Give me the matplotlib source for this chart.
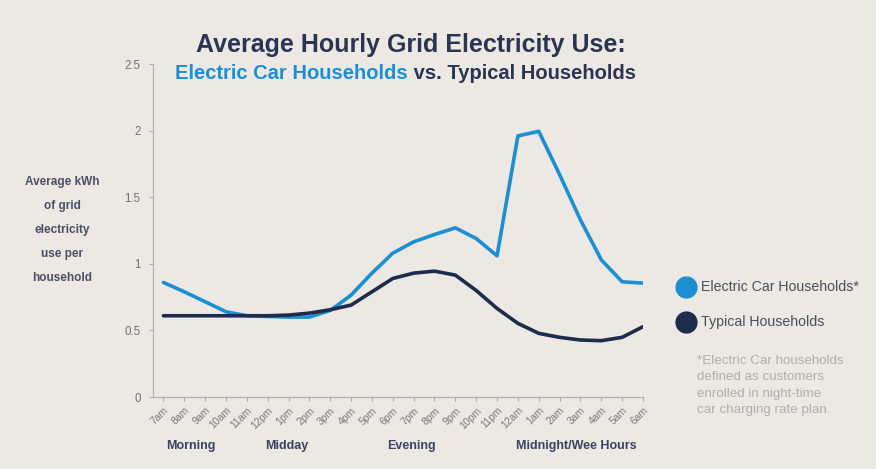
import matplotlib.pyplot as plt
from matplotlib.lines import Line2D

# datos
hours = ['7am', '8am', '9am', '10am', '11am', '12pm', '1pm', '2pm', '3pm', '4pm',
         '5pm', '6pm', '7pm', '8pm', '9pm', '10pm', '11pm', '12am', '1am', '2am',
         '3am', '4am', '5am', '6am']
ev_use = [0.86, 0.79, 0.715, 0.64, 0.61, 0.605, 0.60, 0.60, 0.65, 0.765,
          0.93, 1.08, 1.165, 1.22, 1.27, 1.19, 1.06, 1.96, 1.995, 1.67,
          1.33, 1.03, 0.865, 0.855]
typ_use = [0.61, 0.61, 0.61, 0.61, 0.61, 0.61, 0.615, 0.63, 0.655, 0.69,
           0.79, 0.89, 0.93, 0.945, 0.915, 0.80, 0.665, 0.553, 0.478, 0.448,
           0.428, 0.423, 0.448, 0.528]
periods = ['Morning', 'Midday', 'Evening', 'Midnight/Wee Hours']
period_pos = [1.3, 5.9, 11.9, 19.8]

BG = '#ECE8E3'
BLUE = '#1C8FD3'
NAVY = '#1D2B4C'
plt.rcParams['font.family'] = ['Liberation Sans', 'DejaVu Sans']

fig = plt.figure(figsize=(8.76, 4.69), dpi=100, facecolor=BG)
ax = fig.add_axes([0.1747, 0.1535, 0.5593, 0.71])
ax.set_facecolor(BG)

x = list(range(len(hours)))
ax.plot(x, ev_use, color=BLUE, lw=2.6, solid_joinstyle='round', solid_capstyle='round')
ax.plot(x, typ_use, color=NAVY, lw=2.6, solid_joinstyle='round', solid_capstyle='round')

ax.set_xlim(-0.5, 23)
ax.set_ylim(0, 2.5)
ax.set_yticks([0, 0.5, 1, 1.5, 2, 2.5])
ax.set_yticklabels(['0', '0.5', '1', '1.5', '2', '2.5'])
ax.set_xticks(x)
ax.set_xticklabels(hours, rotation=45, ha='right', rotation_mode='anchor')
ax.tick_params(axis='y', colors='#AAAAAA', labelcolor='#707070', labelsize=8.3, length=3, pad=6)
ax.tick_params(axis='x', colors='#AAAAAA', labelcolor='#7A7A7A', labelsize=7.5, length=3, pad=3)
for s in ['top', 'right']:
    ax.spines[s].set_visible(False)
for s in ['left', 'bottom']:
    ax.spines[s].set_color('#B0B0B0')

# titulo
fig.text(0.469, 0.905, 'Average Hourly Grid Electricity Use:', ha='center', va='center',
         fontsize=18, fontweight='bold', color='#2A3552')
t1 = fig.text(175 / 876, 0.843, 'Electric Car Households', ha='left', va='center',
              fontsize=14.5, fontweight='bold', color=BLUE)
fig.canvas.draw()
bb = t1.get_window_extent()
fig.text(bb.x1 / fig.bbox.width, 0.843, ' vs. Typical Households', ha='left', va='center',
         fontsize=14.5, fontweight='bold', color='#2A3552')

# etiqueta eje y
fig.text(0.071, 0.51, 'Average kWh\nof grid\nelectricity\nuse per\nhousehold', ha='center',
         va='center', fontsize=8.5, fontweight='bold', color='#4A5064', linespacing=2.35)

# periodos
for p, pos in zip(periods, period_pos):
    ax.text(pos, -0.148, p, transform=ax.get_xaxis_transform(), ha='center', va='center',
            fontsize=9, fontweight='bold', color='#3A4360')

# leyenda
for yy, col, lab in [(0.388, BLUE, 'Electric Car Households*'), (0.313, NAVY, 'Typical Households')]:
    fig.add_artist(Line2D([686 / 876], [yy], marker='o', markersize=15, color=col,
                          transform=fig.transFigure))
    fig.text(701 / 876, yy, lab, ha='left', va='center', fontsize=10.2, color='#4A4F5E')

fig.text(697 / 876, 0.178, '*Electric Car households\ndefined as customers\nenrolled in night-time\ncar charging rate plan.',
         ha='left', va='center', fontsize=9.6, color='#B0AEAC', linespacing=1.45)

fig.savefig('out.png', facecolor=BG)
